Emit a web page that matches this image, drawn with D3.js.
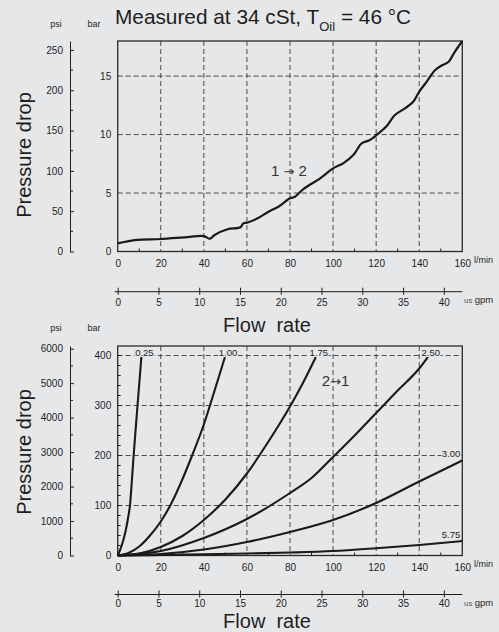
<!DOCTYPE html>
<html>
<head>
<meta charset="utf-8">
<script src="https://cdn.jsdelivr.net/npm/d3@7"></script>
<style>
  body { margin: 0; background: #e6e7e9; }
  svg { display: block; font-family: "Liberation Sans", Arial, sans-serif; }
</style>
</head>
<body>
<div id="place"></div>
<script>
// top chart : 1 -> 2, measured curve (l/min, bar)
const topFlow = [0, 8, 20, 31, 40, 42.8, 45, 51, 57, 58.3, 60, 65, 70, 74.6, 80, 82.3, 86.2, 94, 100, 104.7,
  109.4, 113.3, 117.1, 120.2, 124.9, 128.7, 133.4, 137.2, 140, 143.4, 147.3, 150.4, 153.5, 156.6, 160];
const topDp = [0.70, 0.98, 1.07, 1.21, 1.32, 1.09, 1.41, 1.90, 2.07, 2.41, 2.46, 2.84, 3.4, 3.83, 4.55, 4.68,
  5.34, 6.26, 7.11, 7.54, 8.25, 9.25, 9.53, 9.96, 10.73, 11.67, 12.24, 12.8, 13.66, 14.5, 15.5, 15.9, 16.2, 17.1, 18.0];

// bottom chart : 2 -> 1, one curve per setting
const settings = ["0.25", "1.00", "1.75", "2.50", "3.00", "5.75"];
const flow025 = [0, 1, 2, 3, 4, 5, 5.7, 6.5, 7.4, 9.2, 11];
const dp025 = [0, 10, 22, 37, 56, 80, 100, 145, 200, 300, 397];
const flow100 = [0, 5, 10, 15, 20, 25, 30, 35, 40, 45, 49.8];
const dp100 = [0, 5, 18, 40, 68, 105, 152, 205, 262, 330, 397];
const flow175 = [0, 10, 20, 30, 40, 50, 60, 70, 80, 86, 92];
const dp175 = [0, 4, 17, 39, 71, 112, 164, 228, 298, 345, 397];
const flow250 = [0, 20, 40, 60, 80, 90, 100, 110, 120, 130, 140, 144];
const dp250 = [0, 9, 35, 73, 125, 155, 197, 240, 285, 330, 374, 397];
const flow300 = [0, 20, 40, 60, 80, 100, 120, 140, 160];
const dp300 = [0, 3, 12, 27, 47, 71, 105, 148, 190];
const flow575 = [0, 20, 40, 60, 80, 100, 120, 140, 160];
const dp575 = [0, 1, 2.5, 4, 6, 9, 14.6, 21, 29];

// ticks
const flowTicks = [0, 20, 40, 60, 80, 100, 120, 140, 160];
const flowMinor = [10, 30, 50, 70, 90, 110, 130, 150];
const gpmTicks = [0, 5, 10, 15, 20, 25, 30, 35, 40];
const barTicksTop = [0, 5, 10, 15];
const psiTicksTop = [0, 50, 100, 150, 200, 250];
const barTicksBot = [0, 100, 200, 300, 400];
const psiTicksBot = [0, 1000, 2000, 3000, 4000, 5000, 6000];

const BAR2PSI = 14.5038, GPM2LPM = 3.78541;
const ink = "#1e1e1e";

const svg = d3.select("#place").append("svg")
  .attr("width", 499)
  .attr("height", 632);

svg.append("rect").attr("width", 499).attr("height", 632).attr("fill", "#e6e7e9");

const x = d3.scaleLinear().domain([0, 160]).range([117.7, 462.3]);
const xg = d3.scaleLinear().domain([0, 160 / GPM2LPM]).range([117.7, 462.3]);

function arrowText(sel, a, b, gap) {
  sel.append("tspan").text(a + gap);
  sel.append("tspan").attr("font-family", "DejaVu Sans").attr("font-size", 13).text("\u2192");
  sel.append("tspan").text(gap + b);
}

function panel(c) {
  const g = svg.append("g");
  const y = d3.scaleLinear().domain([0, c.barMax]).range([c.yBot, c.yTop]);
  const yp = d3.scaleLinear().domain([0, c.barMax * BAR2PSI]).range([c.yBot, c.yTop]);

  // grid
  g.selectAll(".vg").data(flowTicks.slice(1, -1)).join("line")
    .attr("x1", d => x(d)).attr("x2", d => x(d))
    .attr("y1", c.yTop).attr("y2", c.yBot)
    .attr("stroke", "#3a3a3a").attr("stroke-width", 0.9).attr("stroke-dasharray", "5,3");
  g.selectAll(".hg").data(c.barTicks.slice(1)).join("line")
    .attr("x1", x(0)).attr("x2", x(160))
    .attr("y1", d => y(d)).attr("y2", d => y(d))
    .attr("stroke", "#3a3a3a").attr("stroke-width", 0.9).attr("stroke-dasharray", "5,3");

  // minor ticks inside the frame
  g.selectAll(".xm").data(flowMinor).join("line")
    .attr("x1", d => x(d)).attr("x2", d => x(d))
    .attr("y1", c.yBot).attr("y2", c.yBot - 3)
    .attr("stroke", ink).attr("stroke-width", 1);
  if (c.barMinor) {
    g.selectAll(".ym").data(d3.range(c.barMinor, c.barMax, c.barMinor)).join("line")
      .attr("x1", x(0)).attr("x2", x(0) + 3)
      .attr("y1", d => y(d)).attr("y2", d => y(d))
      .attr("stroke", ink).attr("stroke-width", 1);
  }

  // frame
  g.append("rect")
    .attr("x", x(0)).attr("y", c.yTop)
    .attr("width", x(160) - x(0)).attr("height", c.yBot - c.yTop)
    .attr("fill", "none").attr("stroke", "#2a2a2a").attr("stroke-width", 1.3);

  // bar labels
  g.append("g").attr("transform", `translate(${x(0)},0)`)
    .call(d3.axisLeft(y).tickValues(c.barTicks).tickSize(0).tickPadding(6.5))
    .call(a => a.select(".domain").remove())
    .selectAll("text").attr("font-size", 10).attr("fill", ink).attr("font-family", null);

  // psi axis
  const pa = g.append("g").attr("transform", "translate(70,0)")
    .call(d3.axisLeft(yp).tickValues(c.psiTicks).tickFormat(d3.format("d"))
      .tickSizeInner(-4).tickSizeOuter(0).tickPadding(7));
  pa.selectAll("text").attr("font-size", 10).attr("fill", ink).attr("font-family", null);
  pa.selectAll("line,path").attr("stroke", ink);
  pa.selectAll(".pm").data(d3.range(c.psiMinor, c.barMax * BAR2PSI, c.psiMinor).filter(v => !c.psiTicks.includes(v)))
    .join("line")
    .attr("x1", 0).attr("x2", 3)
    .attr("y1", d => yp(d)).attr("y2", d => yp(d))
    .attr("stroke", ink);

  svg.append("text").attr("x", 56).attr("y", c.headY).attr("text-anchor", "middle")
    .attr("font-size", 9).attr("fill", ink).text("psi");
  svg.append("text").attr("x", 94).attr("y", c.headY).attr("text-anchor", "middle")
    .attr("font-size", 9).attr("fill", ink).text("bar");

  // flow axis labels
  const xa = g.append("g").attr("transform", `translate(0,${c.yBot})`)
    .call(d3.axisBottom(x).tickValues(flowTicks).tickSize(0).tickPadding(8.5));
  xa.select(".domain").remove();
  xa.selectAll("text").attr("font-size", 10).attr("fill", ink).attr("font-family", null);
  g.append("text").attr("x", 474).attr("y", c.yBot + 11.5)
    .attr("font-size", 9).attr("fill", ink).text("l/min");

  // gpm axis
  const ga = g.append("g").attr("transform", `translate(0,${c.gpmY})`)
    .call(d3.axisBottom(xg).tickValues(gpmTicks).tickSizeInner(3).tickSizeOuter(0).tickPadding(c.gpmPad));
  ga.select(".domain").remove();
  ga.selectAll(".tick line").attr("y1", -4).attr("stroke", ink);
  ga.selectAll("text").attr("font-size", 10).attr("fill", ink).attr("font-family", null);
  ga.append("line").attr("x1", x(0) - 3).attr("x2", x(160)).attr("stroke", ink).attr("stroke-width", 1);
  const us = g.append("text").attr("x", 464).attr("y", c.gpmY + 11.5).attr("fill", ink);
  us.append("tspan").attr("font-size", 8).attr("fill", "#555").text("us ");
  us.append("tspan").attr("font-size", 9.5).text("gpm");

  // titles
  svg.append("text").attr("x", 267).attr("y", c.flowY).attr("text-anchor", "middle")
    .attr("font-size", 20).attr("fill", ink).text("Flow\u00a0 rate");
  svg.append("text")
    .attr("transform", `translate(31,${c.pressY}) rotate(-90)`)
    .attr("text-anchor", "middle").attr("font-size", 20).attr("fill", ink)
    .text("Pressure drop");

  return { g, y };
}

// ---- top chart
const topPanel = panel({
  yTop: 41, yBot: 251.5, barMax: 18,
  barTicks: barTicksTop, psiTicks: psiTicksTop, psiMinor: 25,
  headY: 27, gpmY: 291.7, gpmPad: 4.5, flowY: 332, pressY: 155
});

const title = svg.append("text").attr("x", 115).attr("y", 24)
  .attr("font-size", 20.8).attr("fill", ink);
title.append("tspan").text("Measured at 34 cSt, T");
title.append("tspan").attr("font-size", 13).attr("dy", 6.5).text("Oil");
title.append("tspan").attr("dy", -6.5).text(" = 46 °C");

topPanel.g.append("path")
  .datum(d3.zip(topFlow, topDp))
  .attr("d", d3.line().x(d => x(d[0])).y(d => topPanel.y(d[1])).curve(d3.curveCatmullRom))
  .attr("fill", "none").attr("stroke", "#1a1a1a").attr("stroke-width", 2.2);

topPanel.g.append("text").attr("x", 289).attr("y", 176).attr("text-anchor", "middle")
  .attr("font-size", 15).attr("fill", "#333")
  .call(arrowText, "1", "2", " ");

// ---- bottom chart
const botPanel = panel({
  yTop: 346, yBot: 555.5, barMax: 419, barMinor: 20,
  barTicks: barTicksBot, psiTicks: psiTicksBot, psiMinor: 500,
  headY: 331, gpmY: 594.5, gpmPad: 2.5, flowY: 627.6, pressY: 452
});

const curves = [
  [flow025, dp025], [flow100, dp100], [flow175, dp175],
  [flow250, dp250], [flow300, dp300], [flow575, dp575]
];

const line = d3.line().x(d => x(d[0])).y(d => botPanel.y(d[1])).curve(d3.curveMonotoneX);

curves.forEach(function (c, i) {
  const pts = d3.zip(c[0], c[1]);
  botPanel.g.append("path").datum(pts)
    .attr("d", line)
    .attr("fill", "none").attr("stroke", "#1a1a1a").attr("stroke-width", 2.1);

  const last = pts[pts.length - 1];
  let lx, ly, anchor;
  if (last[1] > 380) {
    lx = x(last[0]) + 3; ly = botPanel.y(400) + 0.5; anchor = "middle";
  } else {
    lx = x(160) - 2; ly = botPanel.y(last[1]) - 3.5; anchor = "end";
  }
  const t = botPanel.g.append("text").attr("x", lx).attr("y", ly)
    .attr("text-anchor", anchor).attr("font-size", 9.5).attr("fill", ink)
    .text(settings[i]);
  const bb = t.node().getBBox();
  botPanel.g.insert("rect", () => t.node())
    .attr("x", bb.x - 0.5).attr("y", bb.y + 1).attr("width", bb.width + 1).attr("height", bb.height - 2)
    .attr("fill", "#e6e7e9");
});

botPanel.g.append("text").attr("x", 335.5).attr("y", 385.5).attr("text-anchor", "middle")
  .attr("font-size", 15).attr("fill", "#333")
  .call(arrowText, "2", "1", "");
</script>
</body>
</html>
